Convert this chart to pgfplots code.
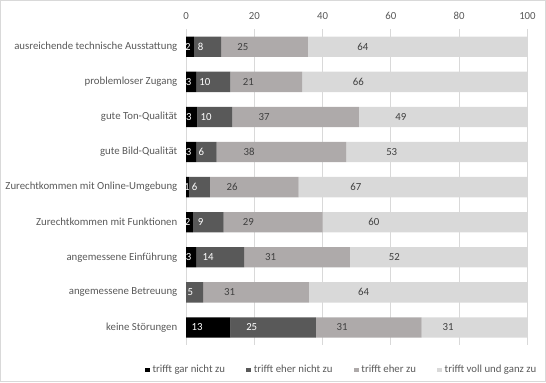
\documentclass[border=0pt]{standalone}
\usepackage{pgfplots}
\usepackage{pgfplotstable}
\pgfplotsset{compat=1.18}
\usepackage{fontspec}
\setmainfont{Carlito}
\definecolor{cA}{HTML}{000000}
\definecolor{cB}{HTML}{595959}
\definecolor{cC}{HTML}{AEAAAA}
\definecolor{cD}{HTML}{D9D9D9}
\definecolor{txt}{HTML}{595959}
\definecolor{lbl}{HTML}{404040}
\definecolor{grd}{HTML}{D9D9D9}
\newcommand{\fs}{\fontsize{8.1}{10}\selectfont}
\pgfplotstableread{
a b c d
2.3 8.0 25.4 64.3
3 10 21 66
3.3 10.3 37.0 49.4
3 6 38 53
1 6 26 67
2 9 29 60
3 14 31 52
0 5 31 64
13 25 31 31
}\datatable
\begin{document}
\begin{tikzpicture}
\useasboundingbox (0,0) rectangle (409.5pt,286.5pt);
\draw[grd, line width=0.75pt] (0.375pt,0.375pt) rectangle (409.125pt,286.125pt);
\begin{axis}[
  at={(139.5pt,27.75pt)}, anchor=south west,
  scale only axis, width=256.1pt, height=236.85pt,
  xbar stacked, bar width=0.58,
  xmin=0, xmax=100, ymin=-0.5, ymax=8.5, y dir=reverse,
  xtick={0,20,...,100}, ytick={0,...,8},
  yticklabels={ausreichende technische Ausstattung, problemloser Zugang, gute Ton-Qualität, gute Bild-Qualität, Zurechtkommen mit Online-Umgebung, Zurechtkommen mit Funktionen, angemessene Einführung, angemessene Betreuung, keine Störungen},
  xticklabel pos=upper,
  xmajorgrids, grid style={grd, line width=0.75pt},
  axis line style={draw=none}, tick style={draw=none},
  ticklabel style={font=\fs, text=txt},
  /pgf/number format/assume math mode=true,
  xtick pos=upper,
  xticklabel style={yshift=4pt},
  yticklabel style={xshift=-3pt},
  nodes near coords={\ifdim\segw pt<0.5pt\else\pgfmathprintnumber[fixed,precision=0]{\segw}\fi},
  every node near coord/.append style={anchor=center, xshift={-0.64025pt*\segw}, font=\fs},
  legend columns=4,
  legend style={at={(axis description cs:0.457,-0.079)}, anchor=center, draw=none, fill=none, font=\fs, text=txt,
    /tikz/every even column/.append style={column sep=14pt}, inner sep=0pt},
  legend image code/.code={\fill[#1] (0pt,-1.8pt) rectangle (3.6pt,1.8pt);},
]
\addplot[fill=cA, draw=none, visualization depends on={\thisrow{a} \as \segw}, every node near coord/.append style={text=white}] table[x=a, y expr=\coordindex, meta=a] {\datatable};
\addplot[fill=cB, draw=none, visualization depends on={\thisrow{b} \as \segw}, every node near coord/.append style={text=white}] table[x=b, y expr=\coordindex, meta=b] {\datatable};
\addplot[fill=cC, draw=none, visualization depends on={\thisrow{c} \as \segw}, every node near coord/.append style={text=lbl}] table[x=c, y expr=\coordindex, meta=c] {\datatable};
\addplot[fill=cD, draw=none, visualization depends on={\thisrow{d} \as \segw}, every node near coord/.append style={text=lbl}] table[x=d, y expr=\coordindex, meta=d] {\datatable};
\legend{trifft gar nicht zu, trifft eher nicht zu, trifft eher zu, trifft voll und ganz zu}
\end{axis}
\end{tikzpicture}
\end{document}
